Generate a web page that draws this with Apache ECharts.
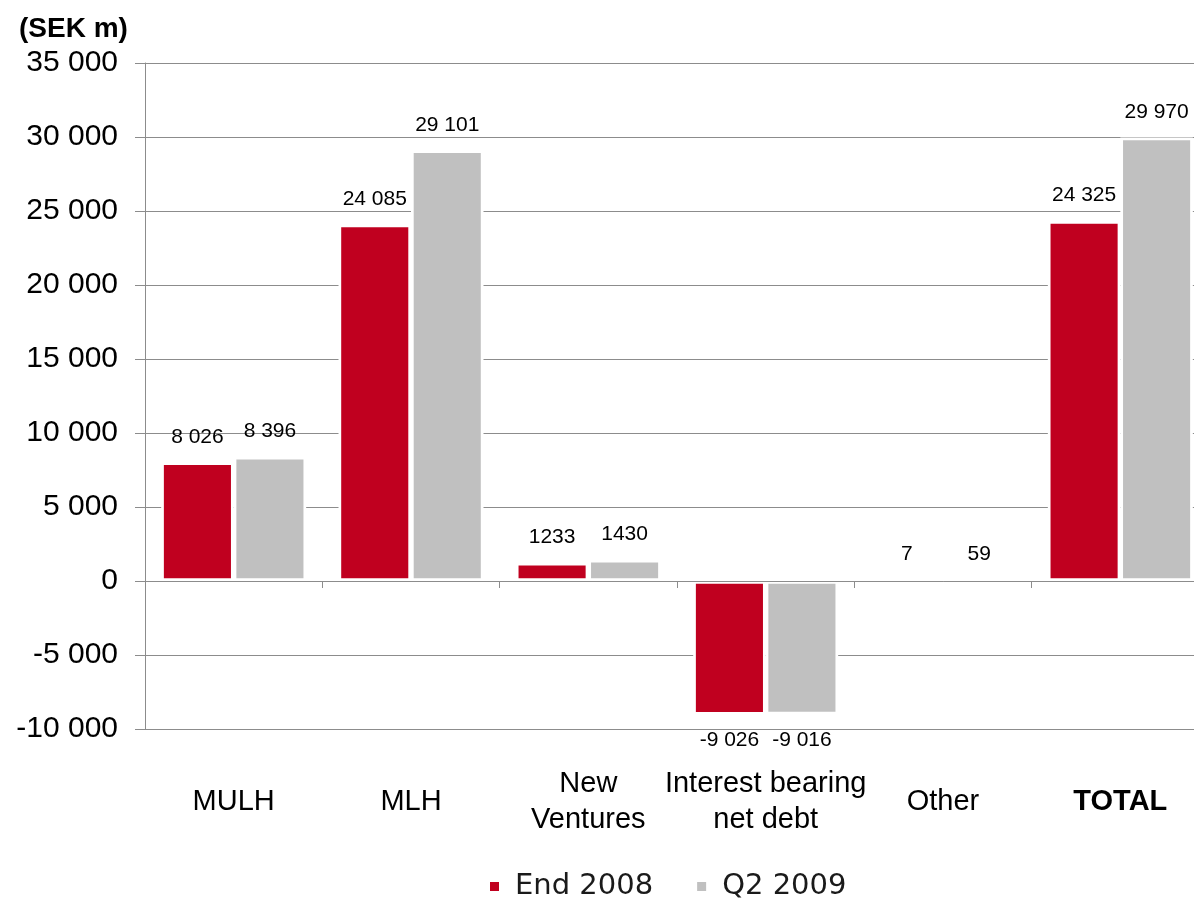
<!DOCTYPE html>
<html>
<head>
<meta charset="utf-8">
<script src="https://cdn.jsdelivr.net/npm/echarts@6/dist/echarts.min.js"></script>
<style>
  html, body { margin: 0; padding: 0; background: #ffffff; overflow: hidden; }
  /* the plot runs slightly past the right edge of the window */
  #chart { width: 1230px; height: 898px; }
</style>
</head>
<body>
<div id="chart"></div>
<script>
// Segment values, SEK million
const categories = ['MULH', 'MLH', 'New\nVentures', 'Interest bearing\nnet debt', 'Other', 'TOTAL'];
const end2008 = [8026, 24085, 1233, -9026, 7, 24325];
const q22009 = [8396, 29101, 1430, -9016, 59, 29970];
const seriesNames = ['End 2008', 'Q2 2009'];
const yMin = -10000;
const yMax = 35000;
const yStep = 5000;

const FONT = "'Liberation Sans', Arial, sans-serif";
const GRID_COLOR = '#8c8c8c';

// "35 000" style grouping with a space
function grouped(v) {
  const s = String(Math.abs(v)).replace(/\B(?=(\d{3})+(?!\d))/g, ' ');
  return (v < 0 ? '-' : '') + s;
}
function barLabel(p) {
  const v = p.value;
  return Math.abs(v) < 5000 ? String(v) : grouped(v);
}
// labels sit above positive bars and below negative ones
function withLabelSide(values) {
  return values.map((v) => ({ value: v, label: { position: v < 0 ? 'bottom' : 'top' } }));
}

const chart = echarts.init(document.getElementById('chart'), null, { renderer: 'canvas' });

const barStyle = (color) => ({
  type: 'bar',
  xAxisIndex: 0,
  yAxisIndex: 0,
  barWidth: 72.5,
  barGap: '0%',
  itemStyle: { color: color, borderColor: '#ffffff', borderWidth: 2.7 },
  label: {
    show: true,
    distance: 15,
    formatter: barLabel,
    fontFamily: FONT,
    fontSize: 21,
    color: '#000000'
  },
  emphasis: { disabled: true },
  animation: false
});

chart.setOption({
  backgroundColor: '#ffffff',
  animation: false,
  title: {
    text: '(SEK m)',
    left: 19,
    top: 15,
    padding: 0,
    textStyle: { fontFamily: FONT, fontSize: 28, fontWeight: 'bold', color: '#000000' }
  },
  legend: {
    data: seriesNames,
    left: 488,
    top: 872,
    padding: 0,
    icon: 'rect',
    itemWidth: 11,
    itemHeight: 11,
    itemGap: 42,
    textStyle: {
      fontFamily: "'DejaVu Sans', Verdana, sans-serif",
      fontSize: 29,
      color: '#1a1a1a',
      padding: [0, 0, 0, 10]
    }
  },
  grid: { left: 145, top: 63, width: 1064, height: 666, containLabel: false },
  xAxis: [
    {
      // category labels below the plot
      type: 'category',
      data: categories,
      position: 'bottom',
      axisLine: { show: false, onZero: false },
      axisTick: { show: false },
      axisLabel: {
        interval: 0,
        margin: 73,
        verticalAlign: 'middle',
        fontFamily: FONT,
        fontSize: 29,
        lineHeight: 36,
        color: '#000000',
        formatter: (v) => v === 'TOTAL' ? '{b|' + v + '}' : v,
        rich: { b: { fontFamily: FONT, fontSize: 29, fontWeight: 'bold', color: '#000000' } }
      }
    },
    {
      // zero line with category boundary ticks
      type: 'category',
      data: categories,
      position: 'bottom',
      z: 3,
      axisLine: { show: true, onZero: true, onZeroAxisIndex: 0, lineStyle: { color: GRID_COLOR, width: 1 } },
      axisTick: { show: true, length: 7, interval: 0, lineStyle: { color: GRID_COLOR } },
      axisLabel: { show: false },
      splitLine: { show: false }
    }
  ],
  yAxis: {
    type: 'value',
    min: yMin,
    max: yMax,
    interval: yStep,
    axisLine: { show: true, lineStyle: { color: GRID_COLOR, width: 1 } },
    axisTick: { show: true, length: 10, lineStyle: { color: GRID_COLOR } },
    splitLine: { show: true, lineStyle: { color: GRID_COLOR, width: 1 } },
    axisLabel: {
      margin: 27,
      fontFamily: FONT,
      fontSize: 30,
      color: '#000000',
      formatter: (v) => grouped(v)
    }
  },
  series: [
    Object.assign(barStyle('#c0001f'), { name: seriesNames[0], data: withLabelSide(end2008) }),
    Object.assign(barStyle('#c0c0c0'), { name: seriesNames[1], data: withLabelSide(q22009) })
  ]
});
</script>
</body>
</html>
